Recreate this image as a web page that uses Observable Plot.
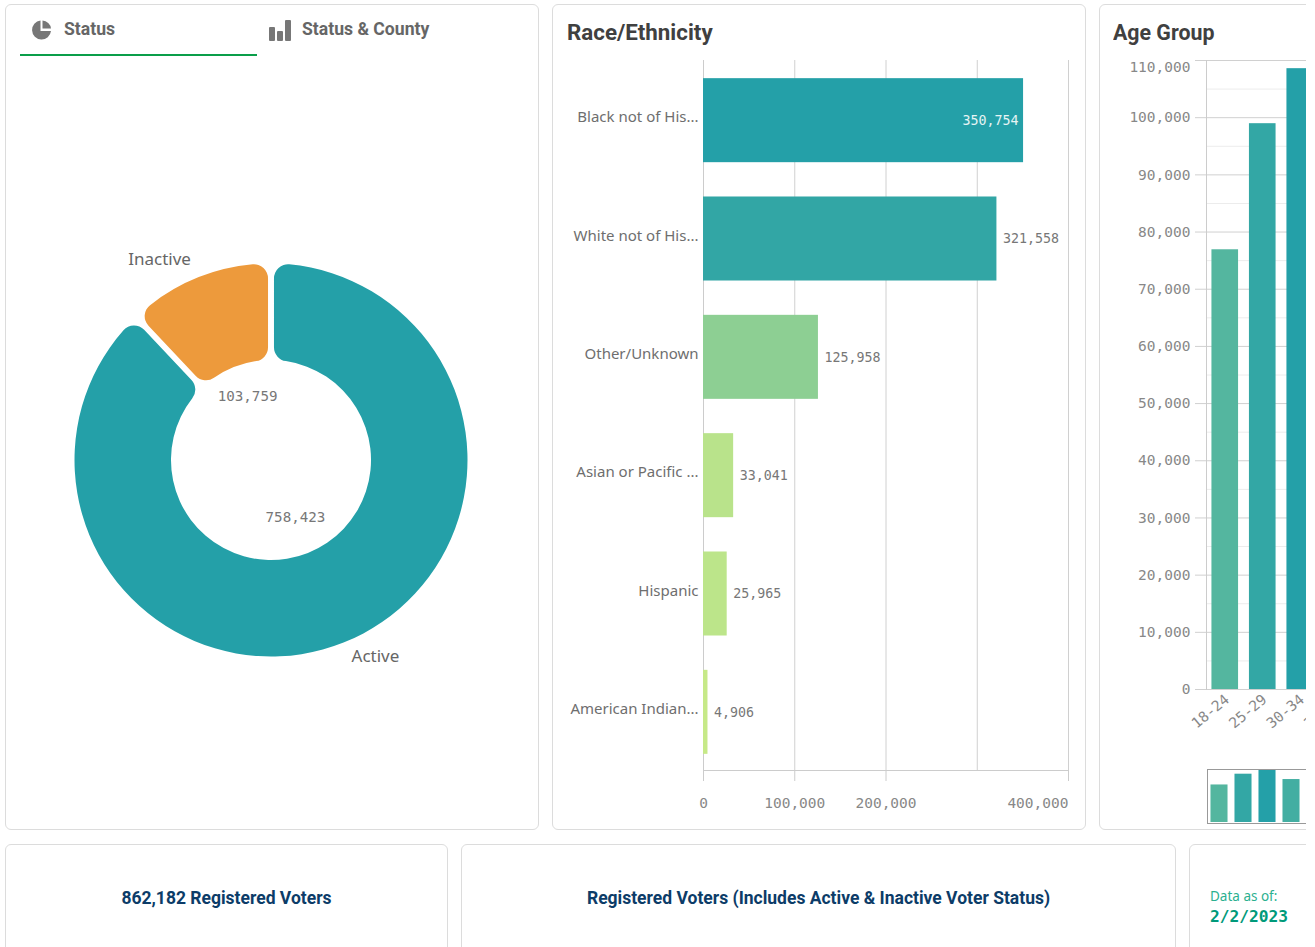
<!DOCTYPE html>
<html><head><meta charset="utf-8">
<script src="https://cdn.jsdelivr.net/npm/d3@7"></script>
<script src="https://cdn.jsdelivr.net/npm/@observablehq/plot@0.6"></script>
<style>
html,body{margin:0;padding:0;background:#fff;overflow:hidden}
#root{position:absolute;left:0;top:0;width:1306px;height:947px;overflow:hidden;background:#fff;font-family:Roboto,sans-serif}
.panel{position:absolute;box-sizing:border-box;border:1px solid #dcdcdc;border-radius:6px;background:#fff}
.abs{position:absolute;white-space:nowrap}
.title{font-weight:700;font-size:22px;color:#404040;transform-origin:left}
.tab{font-weight:700;font-size:17.6px;color:#666}
.kpi{font-weight:700;font-size:17.5px;color:#0c3c68;text-align:center}
svg{display:block;overflow:visible;max-width:none!important}
.fig{position:absolute}
</style></head><body><div id="root"></div>
<script>
// ---- Data
const statuses = ["Active", "Inactive"];
const statusValues = [758423, 103759];
const statusColors = ["#24a0a8", "#ed9a3c"];

const raceLabels = ["Black not of His...", "White not of His...", "Other/Unknown", "Asian or Pacific ...", "Hispanic", "American Indian..."];
const raceValues = [350754, 321558, 125958, 33041, 25965, 4906];
const raceGrid = [100000, 200000, 300000, 400000];
const raceTicks = [0, 100000, 200000, 400000];

const ageLabels = ["18-24", "25-29", "30-34", "35-39", "40-44"];
const ageValues = [76900, 98950, 108570, 88000, 76000];
const ageMajor = [0, 10000, 20000, 30000, 40000, 50000, 60000, 70000, 80000, 90000, 100000, 110000];
const ageMinor = [5000, 15000, 25000, 35000, 45000, 55000, 65000, 75000, 85000, 95000, 105000];

const gradient = ["#c8ea88", "#24a0a8"];
const MONO = "'DejaVu Sans Mono', monospace";
const SANS = "'Noto Sans', sans-serif";
const fmt = d3.format(",");

const root = document.getElementById("root");
function el(css, cls, text) {
  const d = document.createElement("div");
  if (cls) d.className = cls;
  d.style.cssText = css;
  if (text) d.textContent = text;
  root.appendChild(d);
  return d;
}
function fig(node, left, top) {
  const d = el(`left:${left}px;top:${top}px`, "fig");
  d.appendChild(node);
}

// ---- Panels
el("left:5px;top:4px;width:534px;height:826px", "panel");
el("left:552px;top:4px;width:534px;height:826px", "panel");
el("left:1099px;top:4px;width:400px;height:826px", "panel");
el("left:5px;top:844px;width:443px;height:200px", "panel");
el("left:461px;top:844px;width:715px;height:200px", "panel");
el("left:1189px;top:844px;width:300px;height:200px", "panel");

// ---- Tabs
el("left:64px;top:19px", "abs tab", "Status");
el("left:302px;top:19px", "abs tab", "Status & County");
el("left:20px;top:53.5px;width:237px;height:2.5px;background:#0a9e4a", "abs");
const icons = el("left:0;top:0", "abs");
icons.innerHTML = `<svg width="300" height="50" style="position:absolute">
<path d="M40.5 20.5 A9.5 9.5 0 1 0 51 31 L40.5 31 Z" fill="#777"/>
<path d="M42.5 20.5 A9 9 0 0 1 51 28.5 L42.5 28.5 Z" fill="#777"/>
<rect x="269" y="27" width="6" height="14" rx="1" fill="#777"/>
<rect x="277" y="31" width="6" height="10" rx="1" fill="#777"/>
<rect x="285" y="20" width="6" height="21" rx="1" fill="#777"/></svg>`;

// ---- Titles
el("left:567px;top:20px;transform:scaleX(1.015)", "abs title", "Race/Ethnicity");
el("left:1113px;top:20px;transform:scaleX(.97)", "abs title", "Age Group");

// ---- Donut
const pieArcs = d3.pie().sort(null).value(d => d)(statusValues);
const slices = statuses.map((s, i) => ({
  status: s, value: statusValues[i],
  startAngle: pieArcs[i].startAngle, endAngle: pieArcs[i].endAngle,
  mid: (pieArcs[i].startAngle + pieArcs[i].endAngle) / 2
}));
const innerShare = 0.509, labelShare = 0.33, outerShare = 1.15, outerTurn = 0.12;
fig(Plot.plot({
  width: 532, height: 824, margin: 0,
  x: {domain: [-1, 1], range: [68.5, 461.5], axis: null},
  y: {domain: [-1, 1], range: [651.5, 258.5], axis: null},
  color: {domain: statuses, range: statusColors},
  style: {fontFamily: MONO, fontSize: "14.2px", background: "transparent"},
  marks: [
    Plot.dot(slices, {
      x: () => 0, y: () => 0, fill: "status",
      render(I, scales, values) {
        const R = scales.x(1) - scales.x(0);
        const arc = d3.arc().innerRadius(R * innerShare).outerRadius(R).cornerRadius(14).padAngle(0.027);
        const g = d3.create("svg:g");
        for (const i of I) {
          g.append("path").attr("d", arc(slices[i]))
            .attr("transform", `translate(${values.x[i]},${values.y[i]})`)
            .attr("fill", values.fill[i]);
        }
        return g.node();
      }
    }),
    Plot.text(slices, {
      x: d => Math.sin(d.mid) * labelShare, y: d => Math.cos(d.mid) * labelShare,
      text: d => fmt(d.value), fill: "#777", dy: -3.5
    }),
    Plot.text(slices, {
      x: d => Math.sin(d.mid - outerTurn) * outerShare, y: d => Math.cos(d.mid - outerTurn) * outerShare,
      text: "status", fill: "#666", fontFamily: SANS, fontSize: 17, dx: -4, dy: -2.5
    })
  ]
}), 6, 5);

// ---- Race / Ethnicity bars
const race = raceLabels.map((label, i) => ({label, value: raceValues[i]}));
fig(Plot.plot({
  width: 532, height: 770, marginLeft: 150, marginRight: 17, marginTop: 10, marginBottom: 50,
  x: {domain: [0, 400000], axis: null},
  y: {domain: raceLabels, range: [11, 721], paddingInner: 0.29, paddingOuter: 0.145, round: false, axis: null},
  color: {type: "linear", domain: [0, 350754], range: gradient},
  style: {fontFamily: MONO, fontSize: "14.5px", background: "transparent"},
  marks: [
    Plot.ruleX(raceGrid, {x: d => d, stroke: "#d0d0d0", strokeOpacity: 1}),
    Plot.frame({anchor: "left", stroke: "#ccc"}),
    Plot.frame({anchor: "bottom", stroke: "#ccc"}),
    Plot.axisX(raceTicks.slice(0, 3), {anchor: "bottom", tickSize: 11, tickPadding: 16, tickFormat: fmt, stroke: "#ccc", fill: "#888", textStroke: "none", label: null}),
    Plot.axisX(raceTicks.slice(3), {anchor: "bottom", tickSize: 11, tickPadding: 16, tickFormat: fmt, stroke: "#ccc", fill: "#888", textAnchor: "end", label: null}),
    Plot.barX(race, {x: "value", y: "label", fill: "value"}),
    Plot.text(race, {x: () => 0, y: "label", text: "label", dx: -5, dy: -3, textAnchor: "end", fill: "#6e6e6e", fontFamily: SANS, fontSize: 15}),
    Plot.text(race.filter(d => d.value < 330000), {x: "value", y: "label", text: d => fmt(d.value), dx: 6, textAnchor: "start", fill: "#777", fontSize: 13.3}),
    Plot.text(race.filter(d => d.value >= 330000), {x: "value", y: "label", text: d => fmt(d.value), dx: -5, textAnchor: "end", fill: "#e6f4f4", fontSize: 13.3})
  ]
}), 553, 50);

// ---- Age group bars
const age = ageLabels.map((label, i) => ({label, value: ageValues[i]}));
fig(Plot.plot({
  width: 294, height: 700, marginLeft: 106, marginRight: 0, marginTop: 10, marginBottom: 61,
  x: {domain: ageLabels, paddingInner: 0.29, paddingOuter: 0.145, range: [106, 293.5], round: false, axis: null},
  y: {domain: [0, 110000], axis: null},
  color: {type: "linear", domain: [0, 108570], range: gradient},
  style: {fontFamily: MONO, fontSize: "14.5px", background: "transparent"},
  marks: [
    Plot.ruleY(ageMinor, {y: d => d, stroke: "#ececec", strokeOpacity: 1}),
    Plot.ruleY(ageMajor, {y: d => d, stroke: "#d0d0d0", strokeOpacity: 1, insetLeft: -11}),
    Plot.frame({anchor: "left", stroke: "#ccc"}),
    Plot.axisY(ageMajor.slice(0, -1), {anchor: "left", tickSize: 0, tickPadding: 16, tickFormat: fmt, fill: "#888", label: null}),
    Plot.axisY(ageMajor.slice(-1), {anchor: "left", tickSize: 0, tickPadding: 16, tickFormat: fmt, fill: "#888", dy: 7, label: null}),
    Plot.barY(age, {x: "label", y: "value", fill: "value"}),
    Plot.axisX(ageLabels.slice(0, 4), {anchor: "bottom", tickSize: 0, tickPadding: 8, tickRotate: -40, fill: "#888", dx: 2, label: null})
  ]
}), 1100, 50);

// ---- Age group overview strip
fig(Plot.plot({
  width: 200, height: 54, margin: 0,
  x: {domain: ageLabels, paddingInner: 0.29, paddingOuter: 0.145, range: [0, 120], round: false, axis: null},
  y: {domain: [0, 108570], range: [53, 0], axis: null},
  color: {type: "linear", domain: [0, 108570], range: gradient},
  style: {background: "transparent"},
  marks: [
    Plot.barY(age, {x: "label", y: "value", fill: "value"}),
    Plot.frame({stroke: "#999"})
  ]
}), 1207, 769);

// ---- KPI texts
el("left:6px;top:888px;width:441px", "abs kpi", "862,182 Registered Voters");
el("left:462px;top:888px;width:713px", "abs kpi", "Registered Voters (Includes Active & Inactive Voter Status)");
el(`left:1210px;top:887px;font-size:13.5px;color:#2bb08f;font-family:${SANS}`, "abs", "Data as of:");
el(`left:1210px;top:907px;font-size:16.2px;font-weight:700;color:#009a7a;font-family:${MONO}`, "abs", "2/2/2023");
</script></body></html>
